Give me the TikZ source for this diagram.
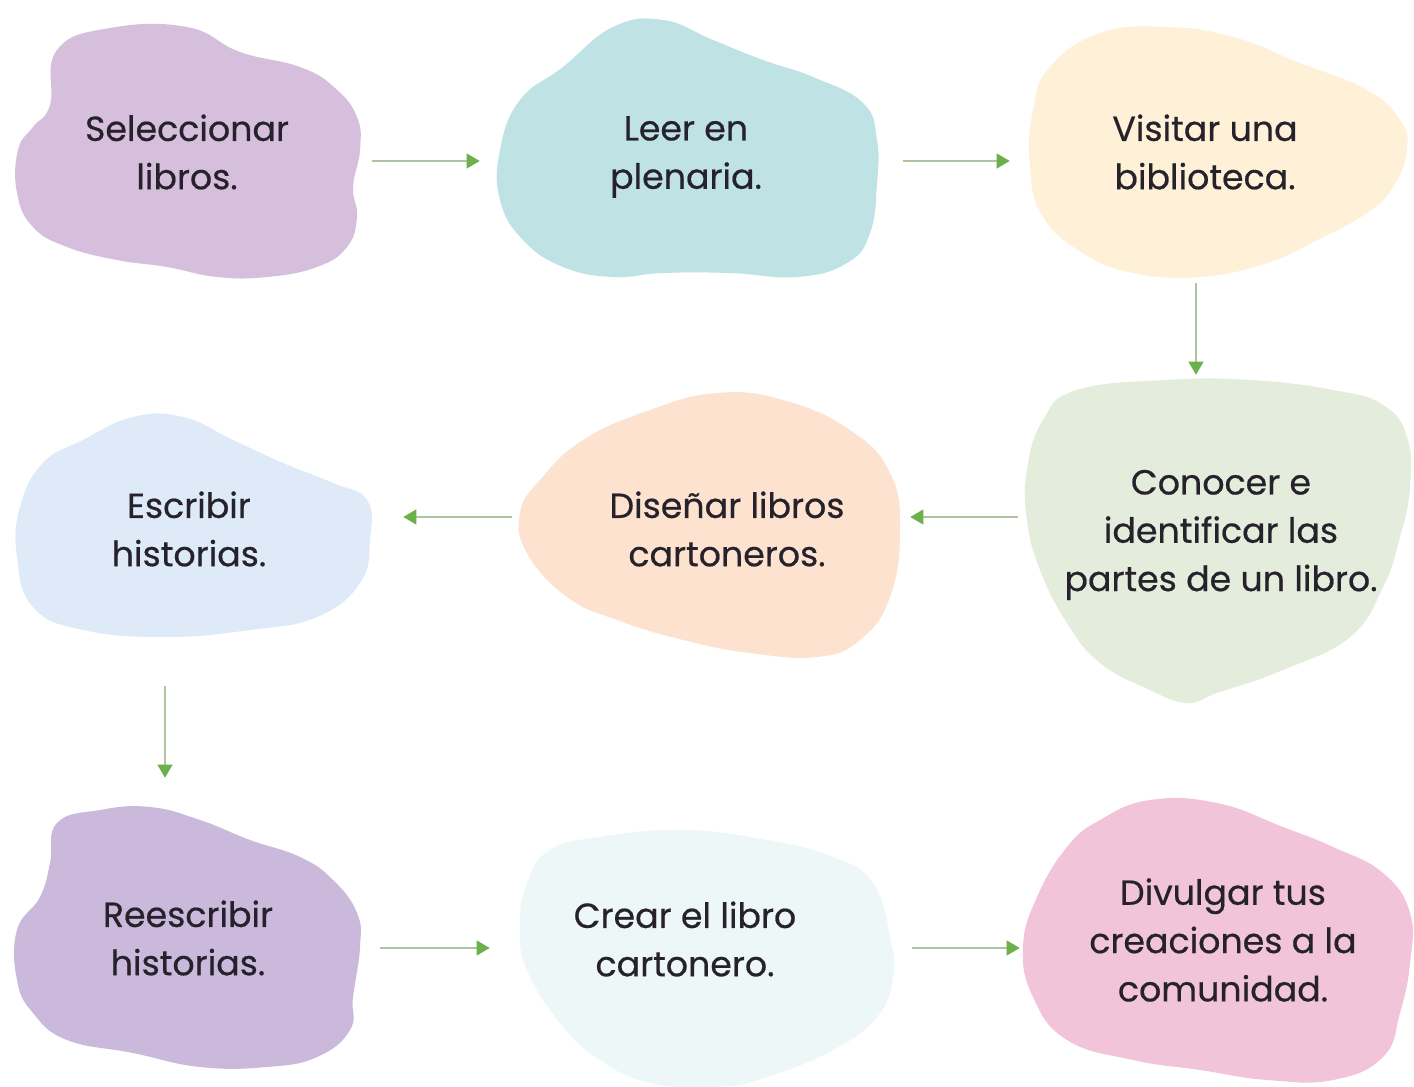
\documentclass[tikz,border=0pt]{standalone}
\usepackage{fontspec}
\setmainfont{Poppins}[FakeBold=0.5]
\usetikzlibrary{arrows.meta}

\newdimen\px \px=0.02cm

\definecolor{lila}{HTML}{D6BFDC}
\definecolor{turquesa}{HTML}{BFE3E4}
\definecolor{crema}{HTML}{FEF1D8}
\definecolor{salvia}{HTML}{E4ECDC}
\definecolor{durazno}{HTML}{FDE3CF}
\definecolor{celeste}{HTML}{DEEAF8}
\definecolor{lavanda}{HTML}{CBB9DB}
\definecolor{hielo}{HTML}{EEF7F7}
\definecolor{rosa}{HTML}{F2C4DA}
\definecolor{linea}{HTML}{AFC5A2}
\definecolor{verde}{HTML}{6BB04A}
\definecolor{texto}{HTML}{26222B}

\tikzset{
  paso/.style={align=center, text=texto, inner sep=0pt,
    font=\fontsize{19.8}{27.5}\selectfont},
  flecha/.style={draw=linea, line width=0.024cm,
    -{Triangle[length=0.26cm,width=0.3cm,color=verde]}},
  mancha/.style={smooth cycle, tension=0.75}
}

\begin{document}
\begin{tikzpicture}[x=0.02cm, y=-0.02cm]
  \useasboundingbox[fill=white] (0,0) rectangle (1414,1087);

  % manchas de fondo
  \fill[lila] plot[mancha] coordinates {(57,50) (110,28) (187,27) (240,52) (300,67)
    (335,88) (357,117) (360,150) (353,187) (357,217) (347,247) (317,267) (267,277)
    (217,277) (167,267) (117,260) (67,247) (33,227) (17,193) (18,150) (33,127) (50,105)};
  \fill[turquesa] plot[mancha] coordinates {(563,67) (613,27) (663,20) (713,40) (763,60)
    (813,77) (863,103) (877,140) (877,183) (870,233) (847,263) (797,277) (730,273)
    (663,273) (613,277) (563,267) (523,240) (500,200) (500,150) (520,100)};
  \fill[crema] plot[mancha] coordinates {(1050,67) (1100,33) (1167,27) (1233,37)
    (1300,63) (1367,90) (1400,120) (1407,150) (1393,187) (1367,213) (1317,240)
    (1267,263) (1200,277) (1133,273) (1083,253) (1043,217) (1030,167) (1033,110)};
  \fill[salvia] plot[mancha] coordinates {(1077,390) (1167,380) (1250,380) (1333,390)
    (1383,405) (1407,437) (1410,487) (1400,537) (1383,587) (1350,637) (1283,670)
    (1217,693) (1187,703) (1150,690) (1100,663) (1067,623) (1040,570) (1027,520)
    (1027,470) (1043,420)};
  \fill[durazno] plot[mancha] coordinates {(650,410) (717,393) (783,400) (850,430)
    (890,473) (900,530) (890,597) (860,640) (817,657) (750,653) (683,640) (617,620)
    (567,597) (527,553) (520,513) (540,480) (583,440)};
  \fill[celeste] plot[mancha] coordinates {(83,440) (133,417) (183,417) (233,440)
    (283,463) (333,483) (367,500) (370,540) (360,583) (317,617) (250,630) (167,637)
    (83,630) (33,607) (17,557) (20,507) (43,463)};
  \fill[lavanda] plot[mancha] coordinates {(57,823) (100,810) (150,807) (200,820)
    (250,840) (300,857) (333,880) (357,913) (360,947) (353,997) (350,1030) (317,1057)
    (267,1067) (200,1067) (133,1053) (67,1040) (33,1013) (17,980) (17,930) (40,897)
    (50,863)};
  \fill[hielo] plot[mancha] coordinates {(550,850) (600,837) (683,830) (767,840)
    (833,857) (873,883) (890,937) (893,977) (877,1017) (833,1050) (767,1077) (717,1087)
    (650,1083) (600,1060) (560,1023) (527,970) (520,927) (527,883)};
  \fill[rosa] plot[mancha] coordinates {(1100,820) (1150,800) (1217,803) (1283,827)
    (1333,847) (1383,873) (1410,913) (1410,963) (1400,1013) (1383,1057) (1333,1080)
    (1267,1080) (1200,1070) (1133,1060) (1067,1040) (1033,997) (1023,947) (1037,897)
    (1067,847)};

  % pasos
  \node[paso, minimum width=348\px, minimum height=258\px] (selec) at (187,152) {Seleccionar\\libros.};
  \node[paso, minimum width=385\px, minimum height=258\px] (leer) at (686,157) {Leer en\\plenaria.};
  \node[paso, minimum width=366\px, minimum height=252\px] (visitar) at (1205,152) {Visitar una\\biblioteca.};
  \node[paso, minimum width=395\px, minimum height=316\px] (conocer) at (1221,535) {Conocer e\\identificar las\\partes de un libro.};
  \node[paso, minimum width=350\px, minimum height=260\px] (disenar) at (727,529) {Diseñar libros\\cartoneros.};
  \node[paso, minimum width=360\px, minimum height=230\px] (escribir) at (189,529) {Escribir\\historias.};
  \node[paso, minimum width=348\px, minimum height=261\px] (reescribir) at (188,938) {Reescribir\\historias.};
  \node[paso, minimum width=385\px, minimum height=255\px] (crear) at (685,939) {Crear el libro\\cartonero.};
  \node[paso, minimum width=388\px, minimum height=280\px] (divulgar) at (1223,940) {Divulgar tus\\creaciones a la\\comunidad.};

  % conexiones
  \draw[flecha, shorten <=0.22cm, shorten >=0.27cm] ([yshift=-0.18cm]selec.east) -- ([yshift=-0.18cm]selec.east -| leer.west);
  \draw[flecha, shorten <=0.49cm, shorten >=0.24cm] ([yshift=-0.08cm]leer.east) -- ([yshift=-0.08cm]leer.east -| visitar.west);
  \draw[flecha, shorten <=0.1cm, shorten >=0.04cm] ([xshift=-0.18cm]visitar.south) -- ([xshift=-0.18cm]visitar.south |- conocer.north);
  \draw[flecha, shorten <=0.11cm, shorten >=0.16cm] ([yshift=0.36cm]conocer.west) -- ([yshift=0.36cm]conocer.west -| disenar.east);
  \draw[flecha, shorten <=0.8cm, shorten >=0.68cm] ([yshift=0.24cm]disenar.west) -- ([yshift=0.24cm]disenar.west -| escribir.east);
  \draw[flecha, shorten <=0.84cm, shorten >=0.59cm] ([xshift=-0.48cm]escribir.south) -- ([xshift=-0.48cm]escribir.south |- reescribir.north);
  \draw[flecha, shorten <=0.36cm, shorten >=0.05cm] ([yshift=-0.2cm]reescribir.east) -- ([yshift=-0.2cm]reescribir.east -| crear.west);
  \draw[flecha, shorten <=0.69cm, shorten >=0.18cm] ([yshift=-0.18cm]crear.east) -- ([yshift=-0.18cm]crear.east -| divulgar.west);
\end{tikzpicture}
\end{document}
